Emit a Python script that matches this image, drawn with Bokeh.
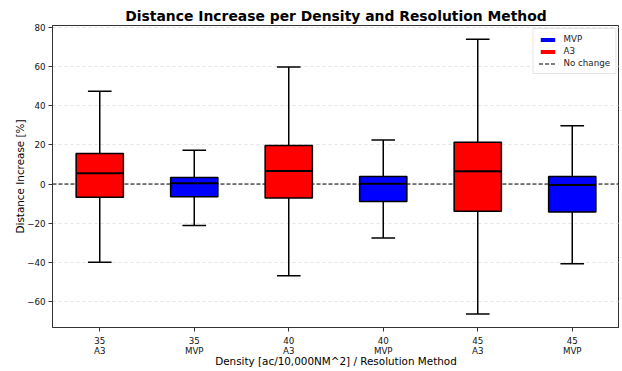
from bokeh.plotting import figure
from bokeh.models import (ColumnDataSource, Span, Legend, LegendItem, FixedTicker)
from bokeh.embed import file_html
from bokeh.resources import INLINE

# ---- data ----
densities = ["35", "35", "40", "40", "45", "45"]
methods = ["A3", "MVP", "A3", "MVP", "A3", "MVP"]
whisker_high = [47.5, 17.3, 60.0, 22.6, 74.2, 29.9]
q3 = [15.6, 3.3, 19.7, 3.9, 21.4, 3.8]
median = [5.5, 0.4, 6.7, 0.2, 6.5, -0.5]
q1 = [-6.8, -6.5, -7.1, -8.9, -14.0, -14.3]
whisker_low = [-40.1, -21.3, -47.0, -27.6, -66.6, -40.8]
no_change_level = 0
y_ticks = [-60, -40, -20, 0, 20, 40, 60, 80]

method_colors = {"A3": "red", "MVP": "blue"}
FONT = "DejaVu Sans"
BOX_W = 0.5
CAP_W = 0.25
NAN = float("nan")

x = [i + 1 for i in range(len(densities))]
src = ColumnDataSource(dict(
    x=x,
    hi=whisker_high, q3=q3, med=median, q1=q1, lo=whisker_low,
    color=[method_colors[m] for m in methods],
    bx0=[v - BOX_W / 2 for v in x], bx1=[v + BOX_W / 2 for v in x],
    cx0=[v - CAP_W / 2 for v in x], cx1=[v + CAP_W / 2 for v in x],
))

p = figure(frame_width=567, frame_height=302, output_backend="svg", toolbar_location=None,
           x_range=(0.5, 6.5), y_range=(-73.5, 81.2),
           min_border_left=52, min_border_right=0, min_border_top=25,
           min_border_bottom=30)

p.title.text = "Distance Increase per Density and Resolution Method"
p.title.text_font = FONT
p.title.text_font_size = "13.9px"
p.title.text_font_style = "bold"
p.title.text_color = "black"
p.title.align = "center"
p.title.standoff = 3
p.title.offset = 0

# zero line under the boxes
p.add_layout(Span(location=no_change_level, dimension="width", line_color="black",
                  line_dash="4 2", line_width=1, level="underlay"))

# whiskers
p.segment(x0="x", y0="q3", x1="x", y1="hi", source=src, line_color="black", line_width=1.5)
p.segment(x0="x", y0="q1", x1="x", y1="lo", source=src, line_color="black", line_width=1.5)
p.segment(x0="cx0", y0="hi", x1="cx1", y1="hi", source=src, line_color="black", line_width=1.5)
p.segment(x0="cx0", y0="lo", x1="cx1", y1="lo", source=src, line_color="black", line_width=1.5)
# boxes
p.vbar(x="x", width=BOX_W, bottom="q1", top="q3", source=src, fill_color="color",
       line_color="black", line_width=1.5)
p.segment(x0="bx0", y0="med", x1="bx1", y1="med", source=src, line_color="black", line_width=2)

# legend-only renderers (nothing is drawn in the plot)
r_mvp = p.rect(x=[NAN], y=[NAN], width=1, height=1, fill_color="blue", line_color=None)
r_a3 = p.rect(x=[NAN], y=[NAN], width=1, height=1, fill_color="red", line_color=None)
r_nc = p.line(x=[NAN, NAN], y=[NAN, NAN], line_color="black", line_dash="4 2", line_width=1.2)
legend = Legend(items=[LegendItem(label="MVP", renderers=[r_mvp]),
                       LegendItem(label="A3", renderers=[r_a3]),
                       LegendItem(label="No change", renderers=[r_nc])],
                location="top_right")
legend.label_text_font = FONT
legend.label_text_font_size = "8.7px"
legend.label_text_color = "#222222"
legend.glyph_height = 5
legend.glyph_width = 18
legend.label_height = 9
legend.spacing = 2
legend.padding = 5
legend.margin = 3
legend.label_standoff = 7
legend.border_line_color = "#cccccc"
legend.background_fill_alpha = 0.9
p.add_layout(legend)

# axes
p.xaxis.ticker = FixedTicker(ticks=x)
p.xaxis.major_label_overrides = {xi: f"{d}\n{m}" for xi, d, m in zip(x, densities, methods)}
p.yaxis.ticker = FixedTicker(ticks=y_ticks)
p.yaxis.major_label_overrides = {t: str(t).replace("-", "\u2212") for t in y_ticks}
p.xaxis.axis_label = "Density [ac/10,000NM^2] / Resolution Method"
p.yaxis.axis_label = "Distance Increase [%]"
for ax in (p.xaxis, p.yaxis):
    ax.axis_label_text_font = FONT
    ax.axis_label_text_font_size = "10.4px"
    ax.axis_label_text_font_style = "normal"
    ax.axis_label_text_color = "black"
    ax.major_label_text_font = FONT
    ax.major_label_text_font_size = "8.7px"
    ax.major_label_text_color = "#111111"
    ax.minor_tick_line_color = None
    ax.major_tick_out = 4
    ax.major_tick_in = 0
    ax.major_tick_line_color = "#333333"
    ax.axis_line_color = "#333333"
p.xaxis.major_label_standoff = 4
p.xaxis.major_label_text_line_height = 1.05
p.xaxis.axis_label_standoff = -4
p.yaxis.major_label_standoff = 3
p.yaxis.axis_label_standoff = -2
p.outline_line_color = "#333333"
p.outline_line_alpha = 1

p.xgrid.grid_line_color = None
p.ygrid.grid_line_color = "#cccccc"
p.ygrid.grid_line_dash = "3 3"
p.ygrid.grid_line_alpha = 0.7
p.ygrid.grid_line_width = 0.8

open("out.html", "w").write(file_html(p, INLINE))
